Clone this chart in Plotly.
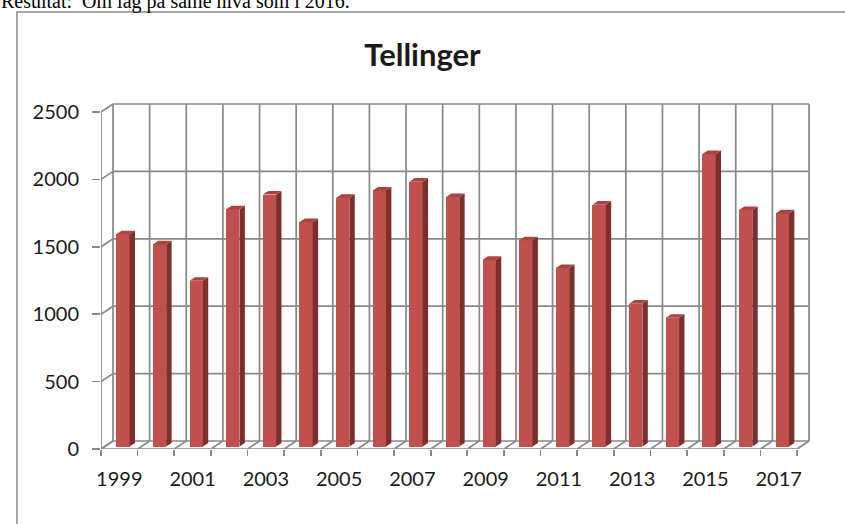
import plotly.graph_objects as go

# ---------------- data ----------------
years = [str(y) for y in range(1999, 2018)]
values = [1575, 1500, 1230, 1760, 1870, 1665, 1845, 1900, 1965, 1850,
          1385, 1530, 1325, 1795, 1060, 955, 2170, 1755, 1730]
y_ticks = [0, 500, 1000, 1500, 2000, 2500]
title_text = "Tellinger"
caption_text = "Resultat:  Om lag på same nivå som i 2016."

# ---------------- geometry (pixels) ----------------
W, H = 845, 524
PL, PR, PT, PB = 101, 812, 100, 449      # plot area
n = len(years)
sx = (797 - 101) / n                    # px per category (front floor)
sy = (449 - 112) / 2500                 # px per value unit
XMIN = -0.5
XMAX = XMIN + (PR - PL) / sx
YMIN = 0
YMAX = (PB - PT) / sy
DX = 12 / sx                            # depth vector front->back in data units
DY = 8 / sy
T1, T2 = 0.30, 0.75                     # bar front/back depth fraction
BW = 13.3 / sx                          # bar width in category units

GRID = "#888888"
GW = 1.7
FACE = "#C0504D"
SIDE = "#7E2E2B"
TOP = "#A84441"
TXT = "#1a1a1a"


def paper_x(p):
    return (p - PL) / (PR - PL)


def paper_y(p):
    return (PB - p) / (PB - PT)


fig = go.Figure()

# ---------------- 3D frame (walls / floor) as shapes below traces ----------------
shapes = []
bounds = [i - 0.5 for i in range(n + 1)]
top_val = y_ticks[-1]
for b in bounds:
    shapes.append(dict(type="line", xref="x", yref="y", x0=b + DX, x1=b + DX,
                       y0=DY, y1=top_val + DY, line=dict(color=GRID, width=GW), layer="below"))
    shapes.append(dict(type="line", xref="x", yref="y", x0=b, x1=b + DX,
                       y0=0, y1=DY, line=dict(color=GRID, width=GW), layer="below"))
for v in y_ticks:
    shapes.append(dict(type="line", xref="x", yref="y", x0=bounds[0] + DX, x1=bounds[-1] + DX,
                       y0=v + DY, y1=v + DY, line=dict(color=GRID, width=GW), layer="below"))
    shapes.append(dict(type="line", xref="x", yref="y", x0=bounds[0], x1=bounds[0] + DX,
                       y0=v, y1=v + DY, line=dict(color=GRID, width=GW), layer="below"))
shapes.append(dict(type="line", xref="x", yref="y", x0=bounds[0], x1=bounds[-1],
                   y0=0, y1=0, line=dict(color=GRID, width=GW), layer="below"))
shapes.append(dict(type="line", xref="x", yref="y", x0=bounds[0], x1=bounds[0],
                   y0=0, y1=top_val, line=dict(color=GRID, width=GW), layer="below"))
# outer chart border
shapes.append(dict(type="rect", xref="paper", yref="paper",
                   x0=paper_x(17), x1=paper_x(W + 10), y0=paper_y(H + 10), y1=paper_y(12),
                   line=dict(color="#8A8A8A", width=1.5), fillcolor="rgba(0,0,0,0)", layer="below"))

# ---------------- bars ----------------
xc = [i + T1 * DX for i in range(n)]
base1 = T1 * DY
fig.add_trace(go.Bar(x=xc, y=values, base=base1, width=BW,
                     marker=dict(color=FACE, line=dict(width=0)),
                     hoverinfo="skip"))

sdx = (T2 - T1) * DX
sdy = (T2 - T1) * DY
side_x, side_y, top_x, top_y = [], [], [], []
for i, v in enumerate(values):
    xl = xc[i] - BW / 2
    xr = xc[i] + BW / 2
    yb = base1
    yt = base1 + v
    side_x += [xr, xr + sdx, xr + sdx, xr, xr, None]
    side_y += [yb, yb + sdy, yt + sdy, yt, yb, None]
    top_x += [xl, xr, xr + sdx, xl + sdx, xl, None]
    top_y += [yt, yt, yt + sdy, yt + sdy, yt, None]

fig.add_trace(go.Scatter(x=side_x, y=side_y, mode="lines", fill="toself",
                         fillcolor=SIDE, line=dict(width=0, color=SIDE), hoverinfo="skip"))
fig.add_trace(go.Scatter(x=top_x, y=top_y, mode="lines", fill="toself",
                         fillcolor=TOP, line=dict(width=0, color=TOP), hoverinfo="skip"))

# ---------------- layout ----------------
fig.update_layout(
    width=W, height=H,
    margin=dict(l=PL, r=W - PR, t=PT, b=H - PB, pad=0),
    paper_bgcolor="white", plot_bgcolor="white",
    showlegend=False,
    bargap=0,
    shapes=shapes,
    title=dict(text=title_text, x=0.5, xref="container", xanchor="center",
               y=1 - 55 / H, yref="container", yanchor="middle",
               font=dict(family="Lato", size=31, color=TXT, weight="bold")),
    annotations=[dict(text=caption_text, xref="paper", yref="paper",
                      x=paper_x(-1), y=paper_y(15.5), xanchor="left", yanchor="bottom",
                      showarrow=False,
                      font=dict(family="Liberation Serif", size=20, color="black"))],
)

fig.update_xaxes(
    type="linear", range=[XMIN, XMAX], automargin=False,
    tickmode="array", tickvals=list(range(0, n, 2)), ticktext=years[::2],
    ticks="", showgrid=False, zeroline=False, showline=False,
    tickfont=dict(family="Lato", size=20, color=TXT),
    ticklabelstandoff=16,
    minor=dict(tickmode="array", tickvals=bounds, ticks="outside", ticklen=6,
               tickwidth=GW, tickcolor=GRID, showgrid=False),
)
fig.update_yaxes(
    range=[YMIN, YMAX], automargin=False,
    tickmode="array", tickvals=y_ticks,
    ticks="outside", ticklen=8, tickwidth=GW, tickcolor=GRID,
    showgrid=False, zeroline=False, showline=False,
    tickfont=dict(family="Lato", size=20, color=TXT),
    ticklabelstandoff=9,
)

fig.write_html("out.html",
               config={"displayModeBar": False, "staticPlot": True},
               post_script="document.body.style.margin='0';document.body.style.overflow='hidden';")
